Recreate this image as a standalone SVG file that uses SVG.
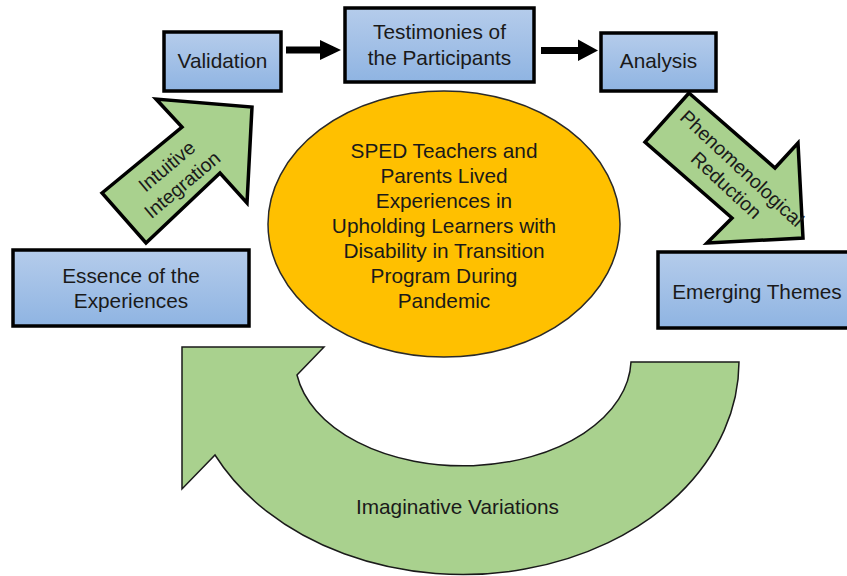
<svg xmlns="http://www.w3.org/2000/svg" width="847" height="576" viewBox="0 0 847 576">
<defs>
<linearGradient id="blue" x1="0" y1="0" x2="0" y2="1">
<stop offset="0" stop-color="#b5cceb"/>
<stop offset="1" stop-color="#8fb4e2"/>
</linearGradient>
<style>
.box{fill:url(#blue);stroke:#000;stroke-width:3.5}
.blk{fill:#a9d18e;stroke:#000;stroke-width:3.5;stroke-linejoin:miter}
.t{font-family:"Liberation Sans",Arial,sans-serif;font-size:20.8px;fill:#1a1a1a;text-anchor:middle}
.r{font-size:19.5px}
.arr{fill:#000}
</style>
</defs>

<g id="center">
<ellipse cx="444" cy="224" rx="176" ry="133" fill="#ffc000" stroke="#2a2a2a" stroke-width="1.5"/>
<text class="t"><tspan x="444" y="158">SPED Teachers and</tspan><tspan x="444" y="183">Parents Lived</tspan><tspan x="444" y="208">Experiences in</tspan><tspan x="444" y="233">Upholding Learners with</tspan><tspan x="444" y="258">Disability in Transition</tspan><tspan x="444" y="283">Program During</tspan><tspan x="444" y="308">Pandemic</tspan></text>
</g>

<g id="validation">
<rect class="box" x="164" y="32" width="117" height="59"/>
<text class="t" x="222.5" y="68">Validation</text>
</g>

<g id="testimonies">
<rect class="box" x="345" y="8" width="189" height="74"/>
<text class="t"><tspan x="439.5" y="39">Testimonies of</tspan><tspan x="439.5" y="65">the Participants</tspan></text>
</g>

<g id="analysis">
<rect class="box" x="601" y="33" width="115" height="58"/>
<text class="t" x="658.5" y="68">Analysis</text>
</g>

<g id="essence">
<rect class="box" x="13" y="250" width="236" height="76"/>
<text class="t"><tspan x="131" y="283">Essence of the</tspan><tspan x="131" y="308">Experiences</tspan></text>
</g>

<g id="emerging">
<rect class="box" x="658" y="252" width="205" height="76"/>
<text class="t" x="757" y="299">Emerging Themes</text>
</g>

<g id="connectors">
<polygon class="arr" points="286,46.5 320,46.5 320,40 341,50 320,60 320,53.5 286,53.5"/>
<polygon class="arr" points="541,47 578,47 578,39.5 598,50.5 578,61 578,54 541,54"/>

<g id="intuitive-integration">
<polygon class="blk" points="102,193 182,127 156,99 252,107 247,203 220,173 146,243"/>
<g transform="translate(175,176) rotate(-40)">
<text class="t r"><tspan x="0" y="-6">Intuitive</tspan><tspan x="0" y="18">Integration</tspan></text>
</g>
</g>

<g id="phenomenological-reduction">
<polygon class="blk" points="689,93 775,168 798,143 803,238 707,243 732,218 645,142"/>
<g transform="translate(734,177) rotate(43)">
<text class="t r"><tspan x="0" y="-5">Phenomenological</tspan><tspan x="0" y="18">Reduction</tspan></text>
</g>
</g>

<g id="imaginative-variations">
<path d="M 739,362 A 276 213 0 0 1 215,455 L 182,489 L 182,347 L 324,347 L 297,375 A 168 107 0 0 0 631,362 Z" fill="#a9d18e" stroke="#1a1a1a" stroke-width="1.5" stroke-linejoin="miter"/>
<text class="t" x="457.5" y="514">Imaginative Variations</text>
</g>
</g>
</svg>
